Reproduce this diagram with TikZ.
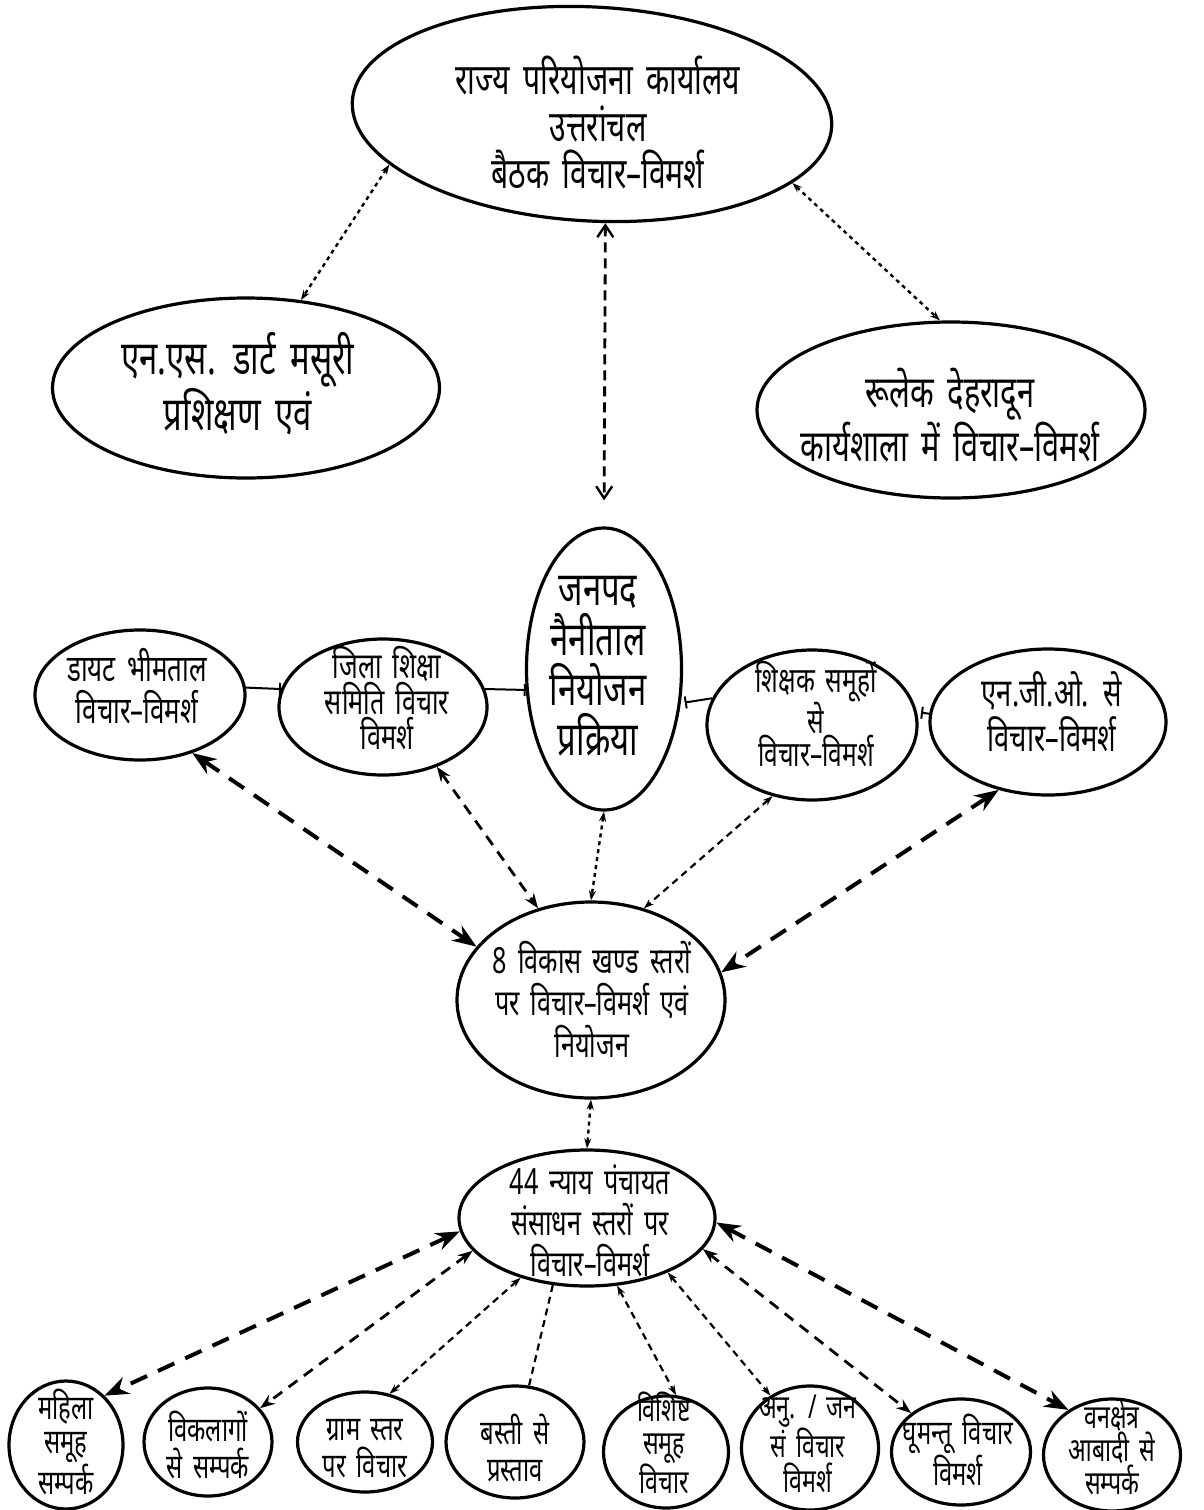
\documentclass[tikz,border=0pt]{standalone}
\usepackage{fontspec}
\newfontfamily\hi[Script=Devanagari,FakeStretch=0.7,WordSpace=1.7]{Noto Sans}
\usetikzlibrary{shapes.geometric,arrows.meta}
\begin{document}
\begin{tikzpicture}[x=1pt,y=-1pt,
  ell/.style={draw,ellipse,line width=3.2pt,inner sep=0pt},
  txt/.style={align=center,inner sep=0pt},
  fs/.style 2 args={font={\hi\fontsize{#1}{#2}\selectfont}},
  bigtip/.style={{Stealth[length=24pt,width=18pt]}-{Stealth[length=24pt,width=18pt]}},
  midtip/.style={{Stealth[length=15pt,width=11pt]}-{Stealth[length=15pt,width=11pt]}},
  smalltip/.style={{Stealth[length=10pt,width=7pt]}-{Stealth[length=10pt,width=7pt]}},
  thickdash/.style={line width=4pt,dash pattern=on 18pt off 12pt,bigtip},
  middash/.style={line width=2.8pt,dash pattern=on 11pt off 8pt,midtip},
  thindash/.style={line width=2.2pt,dash pattern=on 7pt off 5pt,smalltip},
  dots/.style={line width=2.4pt,dash pattern=on 4pt off 4pt,smalltip},
  barline/.style={line width=2pt,-{Bar[width=12pt,line width=2pt]}}
]
\useasboundingbox (0,0) rectangle (1204,1510);

% upper ellipses
\node[ell,rotate=-3,minimum width=480pt,minimum height=214pt] (top) at (592,114) {};
\node[txt,fs={43}{47}] (topt) at (598,122) {राज्य परियोजना कार्यालय\\उत्तरांचल\\बैठक विचार–विमर्श};
\node[ell,minimum width=387pt,minimum height=180pt] (nsd) at (246,388) {};
\node[txt,fs={47}{48}] (nsdt) at (238,384) {एन.एस. डार्ट मसूरी\\प्रशिक्षण एवं};
\node[ell,minimum width=388pt,minimum height=176pt] (rlek) at (951,410) {};
\node[txt,fs={44}{50}] (rlekt) at (950,415) {रूलेक देहरादून\\कार्यशाला में विचार–विमर्श};

% middle row
\node[ell,minimum width=155pt,minimum height=282pt] (jan) at (604,669) {};
\node[txt,fs={47}{50}] (jant) at (598,666) {जनपद\\नैनीताल\\नियोजन\\प्रक्रिया};
\node[ell,minimum width=210pt,minimum height=130pt] (diet) at (140,695) {};
\node[txt,fs={37}{42}] (dietn) at (137,686) {डायट भीमताल\\विचार–विमर्श};
\node[ell,minimum width=208pt,minimum height=136pt] (zila) at (383,707) {};
\node[txt,fs={36}{35}] (zilat) at (387,698) {जिला शिक्षा\\समिति विचार\\विमर्श};
\node[ell,minimum width=210pt,minimum height=150pt] (shik) at (812,725) {};
\node[txt,fs={35}{33}] (shikt) at (816,714) {शिक्षक समूहों\\से\\विचार–विमर्श};
\node[ell,minimum width=236pt,minimum height=146pt] (ngo) at (1048,722) {};
\node[txt,fs={39}{45}] (ngot) at (1052,712) {एन.जी.ओ. से\\विचार–विमर्श};

% centre
\node[ell,minimum width=268pt,minimum height=196pt] (vikas) at (591,1000) {};
\node[txt,fs={36}{42}] (vikast) at (592,999) {8 विकास खण्ड स्तरों\\पर विचार–विमर्श एवं\\नियोजन};
\node[ell,minimum width=256pt,minimum height=136pt] (nyay) at (587,1218) {};
\node[txt,fs={36}{41}] (nyayt) at (590,1221) {44 न्याय पंचायत\\संसाधन स्तरों पर\\विचार–विमर्श};

% bottom row
\node[ell,minimum width=114pt,minimum height=128pt] (b1) at (66,1445) {};
\node[txt,fs={34}{34}] (b1t) at (66,1442) {महिला\\समूह\\सम्पर्क};
\node[ell,minimum width=128pt,minimum height=108pt] (b2) at (208,1442) {};
\node[txt,fs={34}{37}] (b2t) at (208,1445) {विकलागों\\से सम्पर्क};
\node[ell,minimum width=135pt,minimum height=100pt] (b3) at (365,1442) {};
\node[txt,fs={34}{37}] (b3t) at (365,1449) {ग्राम स्तर\\पर विचार};
\node[ell,minimum width=138pt,minimum height=112pt] (b4) at (515,1442) {};
\node[txt,fs={34}{37}] (b4t) at (515,1448) {बस्ती से\\प्रस्ताव};
\node[ell,minimum width=125pt,minimum height=112pt] (b5) at (666,1452) {};
\node[txt,fs={33}{33}] (b5t) at (664,1443) {विशिष्ट\\समूह\\विचार};
\node[ell,minimum width=137pt,minimum height=124pt] (b6) at (810,1448) {};
\node[txt,fs={33}{35}] (b6t) at (808,1444) {अनु. / जन\\सं विचार\\विमर्श};
\node[ell,minimum width=139pt,minimum height=106pt] (b7) at (961,1452) {};
\node[txt,fs={34}{36}] (b7t) at (958,1450) {घूमन्तू विचार\\विमर्श};
\node[ell,minimum width=137pt,minimum height=112pt] (b8) at (1112,1455) {};
\node[txt,fs={33}{33}] (b8t) at (1112,1447) {वनक्षेत्र\\आबादी से\\सम्पर्क};

% connectors top
\draw[dots] (top.197) -- (nsd.58);
\draw[dots] (top.344) -- (rlek.97);
\draw[line width=2.8pt,dash pattern=on 10pt off 6pt,{Straight Barb[length=12pt,width=16pt,line width=2.4pt]}-{Straight Barb[length=12pt,width=16pt,line width=2.4pt]},shorten >=26pt] (top.280) -- (jan.90);

% bar connectors
\draw[barline] (diet.4) -- (zila.170);
\draw[barline] (zila.10) -- (jan.195);
\draw[barline,shorten >=4pt] (shik.165) -- (jan.336);
\draw[barline,shorten >=4pt] (ngo.176) -- (shik.7);

% to vikas
\draw[thickdash] (diet.312) -- (vikas.155);
\draw[middash] (zila.312) -- (vikas.120);
\draw[dots] (jan.270) -- (vikas.90);
\draw[thindash] (shik.241) -- (vikas.60);
\draw[thickdash] (ngo.234) -- (vikas.12);
\draw[dots] (vikas.270) -- (nyay.90);

% to bottom row
\draw[thickdash] (nyay.186) -- (b1.52);
\draw[middash] (nyay.196) -- (b2.33);
\draw[thindash] (nyay.222) -- (b3.63);
\draw[line width=2.2pt,dash pattern=on 7pt off 5pt] (nyay.243) -- (b4.76);
\draw[thindash] (nyay.294) -- (b5.80);
\draw[thindash] (nyay.326) -- (b6.127);
\draw[middash] (nyay.345) -- (b7.142);
\draw[thickdash] (nyay.358) -- (b8.134);
\end{tikzpicture}
\end{document}
